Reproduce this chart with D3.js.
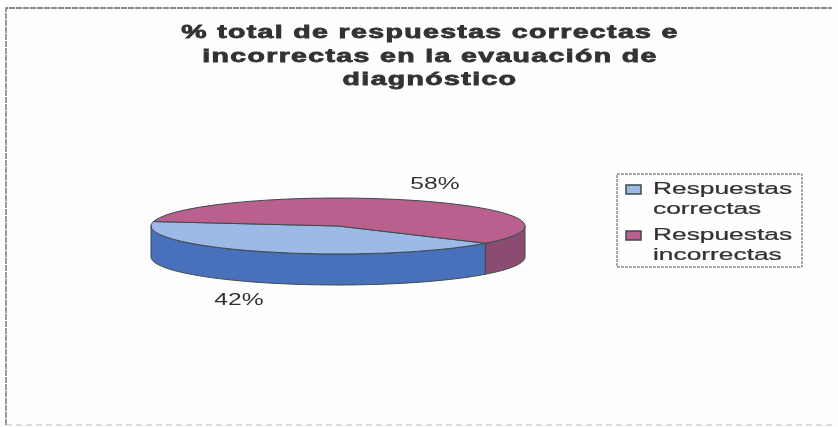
<!DOCTYPE html>
<html>
<head>
<meta charset="utf-8">
<script src="https://cdn.jsdelivr.net/npm/d3@7"></script>
<style>
  html, body { margin: 0; padding: 0; background: #fefefe; }
  svg { display: block; }
  text { font-family: "Liberation Sans", Arial, sans-serif; fill: #333; }
</style>
</head>
<body>
<svg id="svg"></svg>
<script>
const categories = ["Respuestas correctas", "Respuestas incorrectas"];
const values = [42, 58];
const valueLabels = ["42%", "58%"];
const titleLines = ["% total de respuestas correctas e", "incorrectas en la evauación de", "diagnóstico"];
const legendLines = [["Respuestas", "correctas"], ["Respuestas", "incorrectas"]];
const topColors = ["#9db9e8", "#b9608f"];
const wallColors = ["#4a6fbb", "#8c4c70"];

const width = 838;
const height = 427;
const cx = 338, cy = 226, rx = 187, ry = 28, depth = 31;
const rad = Math.PI / 180;

let svg = d3.select("#svg").attr("width", width).attr("height", height);

svg.append("defs").append("filter").attr("id", "scan")
    .append("feGaussianBlur").attr("stdDeviation", 0.5);

let g = svg.append("g").attr("filter", "url(#scan)");

// chart frame: the scan only keeps the top and left edges clearly
g.append("path")
    .attr("d", "M6,425V8H832")
    .attr("fill", "none")
    .attr("stroke", "#666")
    .attr("stroke-width", 1.3)
    .attr("stroke-dasharray", "6 1");

g.append("path")
    .attr("d", "M6,425H832")
    .attr("fill", "none")
    .attr("stroke", "#bbb")
    .attr("stroke-width", 1)
    .attr("stroke-dasharray", "6 4");

// title, text is stretched sideways in the scan
g.append("g").selectAll("text")
    .data(titleLines)
    .enter().append("text")
    .attr("transform", (d, i) => `translate(430,${38 + i * 23.5}) scale(1.5,1)`)
    .attr("text-anchor", "middle")
    .style("font-size", "19px")
    .style("font-weight", "bold")
    .style("letter-spacing", "0.9px")
    .style("stroke", "#333")
    .style("stroke-width", "0.8px")
    .text(d => d);

// pie slices, squashed to an ellipse
let arcs = d3.pie().sort(null).startAngle(128 * rad).endAngle((128 + 360) * rad)(values);

let px = a => cx + rx * Math.sin(a);
let py = a => cy - ry * Math.cos(a);

// the wall is only seen on the front half of the pie (90 to 270 degrees)
function wallPath(a0, a1) {
    let angles = d3.range(a0, a1, 1 * rad).concat([a1]);
    let upper = angles.map(a => [px(a), py(a)]);
    let lower = angles.slice().reverse().map(a => [px(a), py(a) + depth]);
    return d3.line()(upper.concat(lower)) + "Z";
}

let walls = [
    { i: 1, a0: 90 * rad, a1: arcs[0].startAngle },
    { i: 0, a0: arcs[0].startAngle, a1: 270 * rad }
];

g.append("g").selectAll("path")
    .data(walls)
    .enter().append("path")
    .attr("d", d => wallPath(d.a0, d.a1))
    .attr("fill", d => wallColors[d.i])
    .attr("stroke", "#3b4a4c")
    .attr("stroke-width", 1);

let arc = d3.arc().innerRadius(0).outerRadius(1);

g.append("g")
    .attr("transform", `translate(${cx},${cy}) scale(${rx},${ry})`)
    .selectAll("path")
    .data(arcs)
    .enter().append("path")
    .attr("d", arc)
    .attr("fill", (d, i) => topColors[i])
    .attr("stroke", "#3b4a4c")
    .attr("stroke-width", 1)
    .attr("vector-effect", "non-scaling-stroke");

// value labels
let labelPos = [[239, 305], [435, 189]];
g.append("g").selectAll("text")
    .data(valueLabels)
    .enter().append("text")
    .attr("transform", (d, i) => `translate(${labelPos[i][0]},${labelPos[i][1]}) scale(1.45,1)`)
    .attr("text-anchor", "middle")
    .style("font-size", "17px")
    .text(d => d);

// legend
let legend = g.append("g");
legend.append("rect")
    .attr("x", 617).attr("y", 174)
    .attr("width", 185).attr("height", 93)
    .attr("fill", "none")
    .attr("stroke", "#555")
    .attr("stroke-width", 1)
    .attr("stroke-dasharray", "3 1");

let items = legend.selectAll("g")
    .data(categories)
    .enter().append("g")
    .attr("transform", (d, i) => `translate(0,${i * 46})`);

items.append("rect")
    .attr("x", 626).attr("y", 185)
    .attr("width", 15).attr("height", 9)
    .attr("fill", (d, i) => topColors[i])
    .attr("stroke", "#3b4a4c")
    .attr("stroke-width", 1.5);

items.selectAll("text")
    .data((d, i) => legendLines[i])
    .enter().append("text")
    .attr("transform", (d, i) => `translate(653,${194 + i * 20}) scale(1.55,1)`)
    .style("font-size", "17px")
    .style("stroke", "#333")
    .style("stroke-width", "0.25px")
    .text(d => d);
</script>
</body>
</html>
